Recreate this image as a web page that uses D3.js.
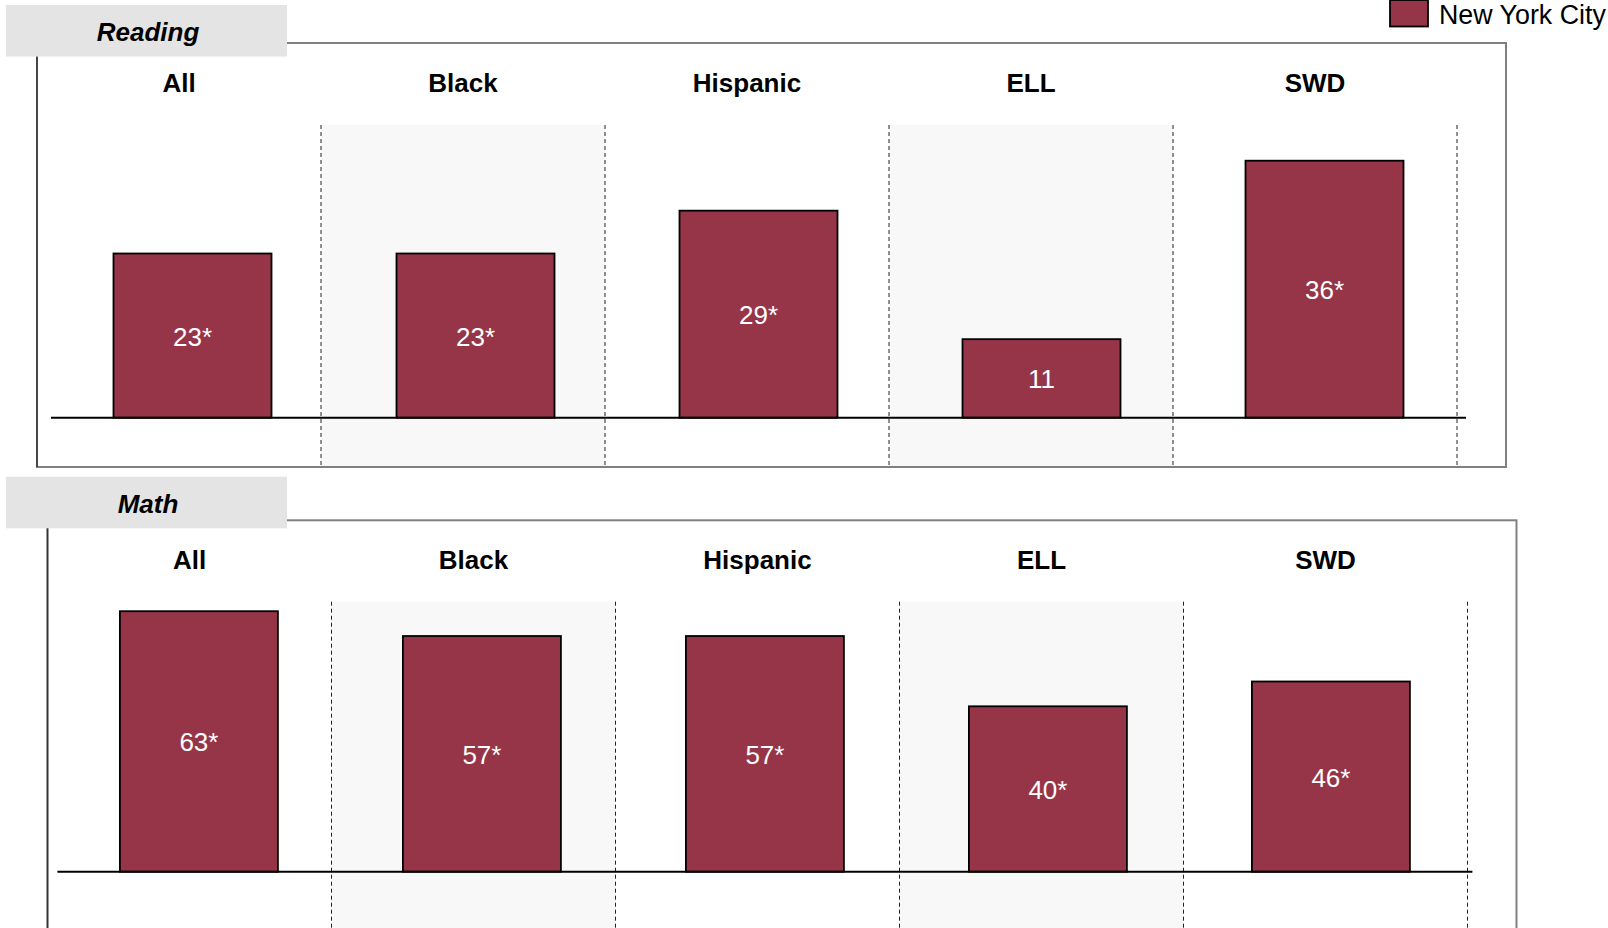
<!DOCTYPE html>
<html>
<head>
<meta charset="utf-8">
<script src="https://cdn.jsdelivr.net/npm/d3@7"></script>
<style>
  html, body { margin: 0; padding: 0; background: #fff; overflow: hidden; }
  svg { display: block; font-family: "Liberation Sans", Arial, sans-serif; }
</style>
</head>
<body>
<svg id="chart" width="1608" height="928"></svg>
<script>
// Student groups shown in each panel
const groups = ["All", "Black", "Hispanic", "ELL", "SWD"];

// Percent values for New York City, by subject
const readingValues = [23, 23, 29, 11, 36];
const mathValues = [63, 57, 57, 40, 46];

// Whether the value is flagged as a significant difference (*)
const readingSignificant = [true, true, true, false, true];
const mathSignificant = [true, true, true, true, true];

// Subject panel titles and the legend entry
const subjects = ["Reading", "Math"];
const legendLabel = "New York City";

const barColor = "#963547";
const shadeColor = "#f8f8f8";

const svg = d3.select("#chart");

// Layout for each subject panel
const panels = [
  { title: subjects[0], values: readingValues, sig: readingSignificant,
    left: 37, top: 43, width: 1469, height: 424,
    headerY: 5, plotStart: 51, plotTop: 125, baseline: 417.7, yMax: 41 },
  { title: subjects[1], values: mathValues, sig: mathSignificant,
    left: 47.5, top: 520.3, width: 1469, height: 424,
    headerY: 476.7, plotStart: 57.4, plotTop: 601.7, baseline: 871.7, yMax: 65.3 }
];

const colWidth = 284;   // group column width (separators)
const barStep = 283;    // spacing between bar centres
const barWidth = 158;

panels.forEach(p => {
  const g = svg.append("g");
  const data = groups.map((grp, i) => ({ grp, value: p.values[i], sig: p.sig[i] }));

  // Column bands (header labels, shading, dashed separators)
  const xCol = d3.scaleBand()
    .domain(groups)
    .range([p.left, p.left + colWidth * groups.length])
    .paddingInner(0).paddingOuter(0);

  // Bar positions
  const xBar = d3.scaleBand()
    .domain(groups)
    .range([p.plotStart, p.plotStart + barStep * groups.length]);

  const y = d3.scaleLinear()
    .domain([0, p.yMax])
    .range([p.baseline, p.plotTop]);

  const bottom = p.top + p.height;

  // Alternating shaded columns
  g.selectAll("rect.shade")
    .data(data.filter((d, i) => i % 2 === 1))
    .join("rect")
    .attr("class", "shade")
    .attr("x", d => xCol(d.grp))
    .attr("y", p.plotTop)
    .attr("width", xCol.bandwidth())
    .attr("height", bottom - p.plotTop)
    .attr("fill", shadeColor);

  // Panel frame
  g.append("rect")
    .attr("x", p.left).attr("y", p.top)
    .attr("width", p.width).attr("height", p.height)
    .attr("fill", "none")
    .attr("stroke", "#808080")
    .attr("stroke-width", 2);
  g.append("line")
    .attr("x1", p.left).attr("x2", p.left)
    .attr("y1", p.top).attr("y2", bottom)
    .attr("stroke", "#333").attr("stroke-width", 1.5);

  // Dashed separators at the right edge of each column
  g.selectAll("line.sep")
    .data(groups)
    .join("line")
    .attr("class", "sep")
    .attr("x1", d => xCol(d) + xCol.bandwidth())
    .attr("x2", d => xCol(d) + xCol.bandwidth())
    .attr("y1", p.plotTop)
    .attr("y2", bottom)
    .attr("stroke", "#222")
    .attr("stroke-width", 1)
    .attr("stroke-dasharray", "4,3");

  // Group headers
  g.selectAll("text.grp")
    .data(groups)
    .join("text")
    .attr("class", "grp")
    .attr("x", d => xCol(d) + xCol.bandwidth() / 2)
    .attr("y", p.top + 48.5)
    .attr("text-anchor", "middle")
    .attr("font-size", 26)
    .attr("font-weight", "bold")
    .attr("fill", "#000")
    .text(d => d);

  // Bars
  g.selectAll("rect.bar")
    .data(data)
    .join("rect")
    .attr("class", "bar")
    .attr("x", d => xBar(d.grp) + xBar.bandwidth() / 2 - barWidth / 2)
    .attr("y", d => y(d.value))
    .attr("width", barWidth)
    .attr("height", d => y(0) - y(d.value))
    .attr("fill", barColor)
    .attr("stroke", "#000")
    .attr("stroke-width", 1.8);

  // Value labels
  g.selectAll("text.val")
    .data(data)
    .join("text")
    .attr("class", "val")
    .attr("x", d => xBar(d.grp) + xBar.bandwidth() / 2)
    .attr("y", d => (y(d.value) + y(0)) / 2 + 10)
    .attr("text-anchor", "middle")
    .attr("font-size", 26)
    .attr("fill", "#fff")
    .text(d => d.value + (d.sig ? "*" : ""));

  // Baseline
  g.append("line")
    .attr("x1", xBar.range()[0]).attr("x2", xBar.range()[1])
    .attr("y1", y(0)).attr("y2", y(0))
    .attr("stroke", "#000")
    .attr("stroke-width", 2);

  // Subject title tab
  g.append("rect")
    .attr("x", 6).attr("y", p.headerY)
    .attr("width", 281).attr("height", 51.6)
    .attr("fill", "#e4e4e4");
  g.append("text")
    .attr("x", 148)
    .attr("y", p.headerY + 26 + 10)
    .attr("text-anchor", "middle")
    .attr("font-size", 26)
    .attr("font-weight", "bold")
    .attr("font-style", "italic")
    .attr("fill", "#000")
    .text(p.title);
});

// Legend
const legend = svg.append("g");
legend.append("rect")
  .attr("x", 1390).attr("y", 0)
  .attr("width", 38).attr("height", 26.5)
  .attr("fill", barColor)
  .attr("stroke", "#000")
  .attr("stroke-width", 1.8);
legend.append("text")
  .attr("x", 1439).attr("y", 24)
  .attr("font-size", 26.8)
  .attr("fill", "#000")
  .text(legendLabel);
</script>
</body>
</html>
